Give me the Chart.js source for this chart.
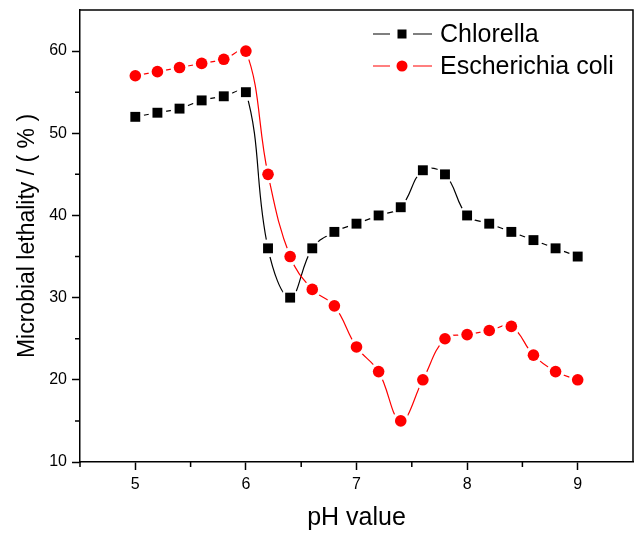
<!DOCTYPE html>
<html lang="en">
<head>
<meta charset="UTF-8">
<title>Microbial lethality vs pH</title>
<script src="https://cdn.jsdelivr.net/npm/chart.js"></script>
<style>
    html, body { margin: 0; padding: 0; background: #fff; }
    #wrap { width: 635px; height: 533px; }
</style>
</head>
<body>
<div id="wrap"><canvas id="chart" width="635" height="533"></canvas></div>
<script>
    const phValues = [5.0, 5.2, 5.4, 5.6, 5.8, 6.0, 6.2, 6.4, 6.6, 6.8, 7.0, 7.2, 7.4, 7.6, 7.8, 8.0, 8.2, 8.4, 8.6, 8.8, 9.0];
    const chlorella = [52, 52.5, 53, 54, 54.5, 55, 36, 30, 36, 38, 39, 40, 41, 45.5, 45, 40, 39, 38, 37, 36, 35];
    const ecoli = [57, 57.5, 58, 58.5, 59, 60, 45, 35, 31, 29, 24, 21, 15, 20, 25, 25.5, 26, 26.5, 23, 21, 20];
    const seriesNames = ['Chlorella', 'Escherichia coli'];
    const xTicks = [5, 6, 7, 8, 9];
    const xMinor = [4.5, 5.5, 6.5, 7.5, 8.5];
    const yTicks = [10, 20, 30, 40, 50, 60];
    const yMinor = [15, 25, 35, 45, 55];

    const FONT = "'Liberation Sans', Arial, sans-serif";

    function pts(ys) {
        return phValues.map((x, i) => ({ x: x, y: ys[i] }));
    }

    // each series = spline line, white halo (gap round symbols), symbols
    function seriesSets(name, ys, color, style, radius, baseOrder, row) {
        return [
            { label: name, data: pts(ys), showLine: true, borderColor: color, borderWidth: 1.2, tension: 0.4,
              pointRadius: 0, fill: false, order: baseOrder + 2 },
            { label: name + ' gap', data: pts(ys), showLine: false, pointRadius: 9,
              pointBackgroundColor: '#fff', pointBorderWidth: 0, order: baseOrder + 1 },
            { label: name + ' sym', data: pts(ys), showLine: false, pointStyle: style,
              pointRadius: radius, pointBackgroundColor: color, pointBorderColor: color,
              pointBorderWidth: 0, order: baseOrder, legendRow: row }
        ];
    }

    const framePlugin = {
        id: 'frame',
        afterDraw(chart) {
            const { ctx, chartArea: a, scales: { x, y } } = chart;
            ctx.save();
            ctx.strokeStyle = '#000';
            ctx.lineWidth = 1.5;
            ctx.beginPath();
            ctx.moveTo(a.left, a.top);
            ctx.lineTo(a.right, a.top);
            ctx.lineTo(a.right, a.bottom);
            ctx.stroke();
            ctx.beginPath();
            xMinor.forEach(v => {
                const px = x.getPixelForValue(v);
                ctx.moveTo(px, a.bottom);
                ctx.lineTo(px, a.bottom + 5);
            });
            yMinor.forEach(v => {
                const py = y.getPixelForValue(v);
                ctx.moveTo(a.left - 5, py);
                ctx.lineTo(a.left, py);
            });
            ctx.stroke();

            // legend: line - symbol - line, then the name
            chart.data.datasets.forEach(ds => {
                if (ds.legendRow === undefined) return;
                const ly = a.top + 24 + ds.legendRow * 32;
                const lx = 373;
                ctx.strokeStyle = ds.pointBackgroundColor;
                ctx.lineWidth = 1.2;
                ctx.beginPath();
                ctx.moveTo(lx, ly); ctx.lineTo(lx + 17, ly);
                ctx.moveTo(lx + 40, ly); ctx.lineTo(lx + 59, ly);
                ctx.stroke();
                ctx.fillStyle = ds.pointBackgroundColor;
                if (ds.pointStyle === 'rect') {
                    ctx.fillRect(lx + 29 - 4.5, ly - 4.5, 9, 9);
                } else {
                    ctx.beginPath();
                    ctx.arc(lx + 29, ly, 5.5, 0, Math.PI * 2);
                    ctx.fill();
                }
                ctx.fillStyle = '#000';
                ctx.font = '25px ' + FONT;
                ctx.textBaseline = 'middle';
                ctx.textAlign = 'left';
                ctx.fillText(seriesNames[ds.legendRow], lx + 67, ly + 1);
            });
            ctx.restore();
        }
    };

    const datasets = [
        ...seriesSets(seriesNames[1], ecoli, '#ff0000', 'circle', 5.8, 0, 1),
        ...seriesSets(seriesNames[0], chlorella, '#000000', 'rect', 7, 3, 0)
    ];

    new Chart(document.getElementById('chart'), {
        type: 'scatter',
        data: { datasets: datasets },
        options: {
            responsive: false,
            animation: false,
            layout: { autoPadding: false, padding: { top: 10, right: 2, left: 0, bottom: 0 } },
            plugins: { legend: { display: false }, tooltip: { enabled: false } },
            scales: {
                x: {
                    type: 'linear', min: 4.5, max: 9.5,
                    afterBuildTicks: s => { s.ticks = xTicks.map(v => ({ value: v })); },
                    afterFit: s => { s.height = 71; s.paddingLeft = 0; s.paddingRight = 0; },
                    grid: { display: true, drawOnChartArea: false, drawTicks: true, tickLength: 8, tickColor: '#000', tickWidth: 1.5 },
                    border: { display: true, color: '#000', width: 1.5 },
                    ticks: { color: '#000', padding: 5, font: { family: FONT, size: 16 } },
                    title: { display: true, text: 'pH value', color: '#000', padding: { top: 0, bottom: 0 },
                             font: { family: FONT, size: 25 } }
                },
                y: {
                    type: 'linear', min: 10, max: 65,
                    afterBuildTicks: s => { s.ticks = yTicks.map(v => ({ value: v })); },
                    afterFit: s => { s.width = 80; s.paddingTop = 0; s.paddingBottom = 0; },
                    grid: { display: true, drawOnChartArea: false, drawTicks: true, tickLength: 8, tickColor: '#000', tickWidth: 1.5 },
                    border: { display: true, color: '#000', width: 1.5 },
                    ticks: { color: '#000', padding: 5, font: { family: FONT, size: 16 } },
                    title: { display: true, text: 'Microbial lethality / ( % )', color: '#000', padding: { top: 14, bottom: 0 },
                             font: { family: FONT, size: 23 } }
                }
            }
        },
        plugins: [framePlugin]
    });
</script>
</body>
</html>
